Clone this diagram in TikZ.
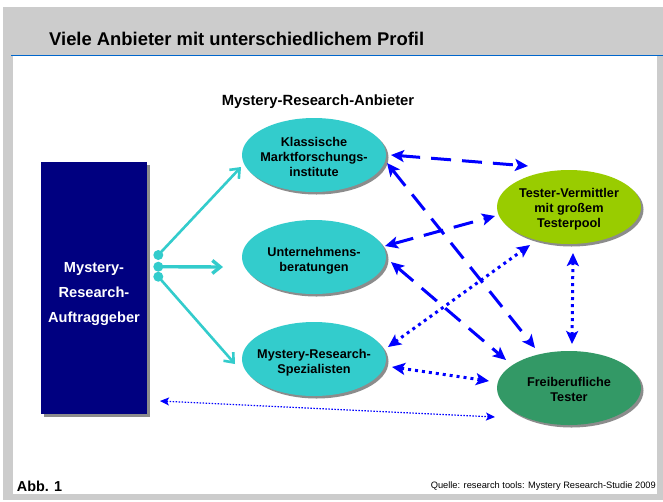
\documentclass[tikz,border=0pt]{standalone}
\usepackage{fontspec}
\setmainfont{Liberation Sans}
\usetikzlibrary{arrows.meta,shapes.geometric,shadows,calc}

\definecolor{framegray}{HTML}{CCCCCC}
\definecolor{rulecol}{HTML}{0066CC}
\definecolor{navybox}{HTML}{000080}
\definecolor{tealfill}{HTML}{33CCCC}
\definecolor{limefill}{HTML}{99CC00}
\definecolor{greenfill}{HTML}{339966}
\definecolor{linkblue}{HTML}{0000FF}
\definecolor{shadowgray}{HTML}{8C8C8C}

\begin{document}
\begin{tikzpicture}[x=1pt,y=-1pt,
  bubble/.style={ellipse, minimum width=144pt, minimum height=74pt, inner sep=0pt,
    drop shadow={shadow xshift=2.5pt, shadow yshift=-2.5pt, fill=shadowgray, opacity=1}},
  btext/.style={inner sep=0pt, align=center, text=black,
    font=\fontsize{12.7}{15}\selectfont\bfseries},
  clientbox/.style={rectangle, fill=navybox, minimum width=106pt, minimum height=252pt,
    inner sep=0pt, drop shadow={shadow xshift=3pt, shadow yshift=-3pt, fill=shadowgray, opacity=1}},
  knob/.style={circle, fill=tealfill, minimum size=10pt, inner sep=0pt},
  feed/.style={draw=tealfill, line width=2.6pt, -{Straight Barb[length=8pt,width=13pt]}},
  dashlink/.style={draw=linkblue, line width=3pt, dash pattern=on 20pt off 11pt,
    {Stealth[length=13pt,width=12pt,inset=3pt]}-{Stealth[length=13pt,width=12pt,inset=3pt]}},
  dotlink/.style={draw=linkblue, line width=3pt, dash pattern=on 3pt off 4pt,
    {Stealth[length=13pt,width=12pt,inset=3pt]}-{Stealth[length=13pt,width=12pt,inset=3pt]}},
  thinlink/.style={draw=linkblue, line width=1.2pt, dash pattern=on 1.5pt off 1.5pt,
    {Stealth[length=9pt,width=8pt,inset=2pt]}-{Stealth[length=9pt,width=8pt,inset=2pt]}}
]
\useasboundingbox (0,0) rectangle (663,501);

% page frame and header band
\fill[framegray] (3,7) rectangle (663,500);
\fill[white] (13,56) rectangle (657,494);
\draw[rulecol, line width=1.5pt] (11,55.7) -- (663,55.7);

\node[anchor=base west, inner sep=0pt, font=\fontsize{18.4}{20}\selectfont\bfseries] (title)
  at (49,45.7) {Viele Anbieter mit unterschiedlichem Profil};
\node[anchor=base, inner sep=0pt, font=\fontsize{14.8}{17}\selectfont\bfseries] (group)
  at (318,105.7) {Mystery-Research-Anbieter};

% client block
\node[clientbox] (A) at (94,288) {};
\node[inner sep=0pt, align=center, text=white, font=\fontsize{14.6}{25}\selectfont\bfseries] (At)
  at (94,294) {Mystery-\\Research-\\Auftraggeber};

% provider bubbles
\node[bubble, fill=tealfill] (K) at (314,155) {};
\node[btext] (Kt) at ($(K)+(0,2)$) {Klassische\\Marktforschungs-\\institute};
\node[bubble, fill=tealfill] (U) at (314,257) {};
\node[btext] (Ut) at ($(U)+(0,4)$) {Unternehmens-\\beratungen};
\node[bubble, fill=tealfill] (S) at (314,359) {};
\node[btext] (St) at ($(S)+(0,4)$) {Mystery-Research-\\Spezialisten};
\node[bubble, fill=limefill] (TV) at (569,207) {};
\node[btext] (TVt) at ($(TV)+(0,2)$) {Tester-Vermittler\\mit großem\\Testerpool};
\node[bubble, fill=greenfill] (F) at (569,388) {};
\node[btext] (Ft) at ($(F)+(0,1.5)$) {Freiberufliche\\Tester};

% connection knobs and feed arrows
\draw[feed] (158.3,255) -- ($(K)+(-73,12)$);
\draw[feed, line width=3.4pt] (158.3,266.7) -- ($(U)+(-91,10)$);
\draw[feed] (158.3,276.7) -- ($(S)+(-79,5)$);
\node[knob] (d1) at (158.3,255) {};
\node[knob] (d2) at (158.3,266.7) {};
\node[knob] (d3) at (158.3,276.7) {};

% relations between the providers
\draw[dashlink] ($(K)+(77,0)$) -- ($(TV)+(-41,-41)$);
\draw[dashlink] ($(K)+(73,8)$) -- ($(F)+(-34,-40)$);
\draw[dashlink] ($(U)+(71,-11)$) -- ($(TV)+(-74,9)$);
\draw[dashlink] ($(U)+(77,5)$) -- ($(F)+(-63,-28)$);
\draw[dotlink] ($(S)+(74,-12)$) -- ($(TV)+(-39,38)$);
\draw[dotlink] ($(S)+(78,8)$) -- ($(F)+(-80,-7)$);
\draw[dotlink] ($(TV)+(4,46)$) -- ($(F)+(3,-44)$);
\draw[thinlink] ($(A)+(66,113)$) -- ($(F)+(-74,29)$);

% footer
\node[anchor=base west, inner sep=0pt, font=\fontsize{14.4}{16}\selectfont\bfseries] (abb)
  at (16.7,491.7) {Abb. 1};
\node[anchor=base east, inner sep=0pt, font=\fontsize{9.3}{11}\selectfont] (src)
  at (656,488.3) {Quelle: research tools: Mystery Research-Studie 2009};
\end{tikzpicture}
\end{document}
